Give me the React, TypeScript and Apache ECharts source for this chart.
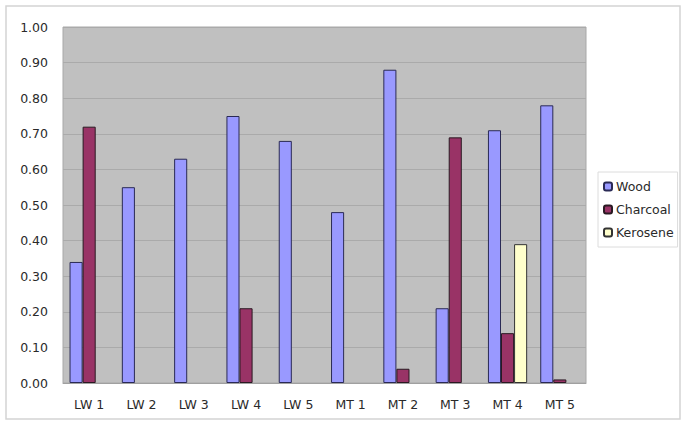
import React, { useEffect, useRef } from "react";
import * as echarts from "echarts";

const categories = ["LW 1", "LW 2", "LW 3", "LW 4", "LW 5", "MT 1", "MT 2", "MT 3", "MT 4", "MT 5"];
const wood = [0.34, 0.55, 0.63, 0.75, 0.68, 0.48, 0.88, 0.21, 0.71, 0.78];
const charcoal = [0.72, null, null, 0.21, null, null, 0.04, 0.69, 0.14, 0.01];
const kerosene = [null, null, null, null, null, null, null, null, 0.39, null];

export default function App() {
  const ref = useRef<HTMLDivElement>(null);
  useEffect(() => {
    document.body.style.margin = "0";
    const chart = echarts.init(ref.current!, null, { renderer: "svg" });
    const font = "'DejaVu Sans', Verdana, sans-serif";
    const txt = "#2a2a2a";
    chart.setOption({
      animation: false,
      backgroundColor: "#ffffff",
      textStyle: { fontFamily: font },
      graphic: [
        {
          type: "rect",
          shape: { x: 6, y: 6, width: 674, height: 413 },
          style: { fill: "none", stroke: "#d4d4d4", lineWidth: 1.5 },
          silent: true,
          z: -10,
        },
      ],
      grid: {
        left: 63,
        top: 27,
        width: 523,
        height: 356,
        show: true,
        backgroundColor: "#c0c0c0",
        borderColor: "#a8a8a8",
        borderWidth: 1,
      },
      legend: {
        orient: "vertical",
        left: 598,
        top: 172,
        itemWidth: 8,
        itemHeight: 8,
        itemGap: 10,
        padding: [8, 4, 8, 5],
        borderColor: "#dcdcdc",
        borderWidth: 1,
        textStyle: { fontSize: 12.5, color: txt, fontFamily: font, padding: [0, 0, 0, -1] },
        data: ["Wood", "Charcoal", "Kerosene"],
      },
      xAxis: {
        type: "category",
        data: categories,
        axisLine: { show: true, lineStyle: { color: "#a0a0a0" } },
        axisTick: { show: false },
        axisLabel: { fontSize: 12.5, color: txt, margin: 15, fontFamily: font },
      },
      yAxis: {
        type: "value",
        min: 0,
        max: 1,
        interval: 0.1,
        axisLine: { show: false },
        axisTick: { show: false },
        axisLabel: {
          fontSize: 12.5,
          color: txt,
          margin: 15,
          fontFamily: font,
          formatter: (v: number) => v.toFixed(2),
        },
        splitLine: { show: true, lineStyle: { color: "#aaaaaa", width: 1 } },
      },
      series: [
        {
          name: "Wood",
          type: "bar",
          data: wood,
          barGap: "0%",
          barCategoryGap: "25%",
          itemStyle: { color: "#9999ff", borderColor: "#2a2a55", borderWidth: 1 },
        },
        {
          name: "Charcoal",
          type: "bar",
          data: charcoal,
          itemStyle: { color: "#993366", borderColor: "#2a1a22", borderWidth: 1 },
        },
        {
          name: "Kerosene",
          type: "bar",
          data: kerosene,
          itemStyle: { color: "#ffffcc", borderColor: "#333333", borderWidth: 1 },
        },
      ],
    });
    return () => chart.dispose();
  }, []);
  return <div ref={ref} style={{ width: 683, height: 426, position: "absolute", left: 0, top: 0 }} />;
}
